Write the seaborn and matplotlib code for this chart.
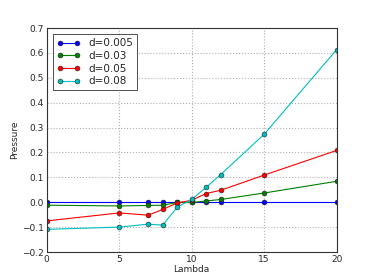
import numpy as np
import pandas as pd
import seaborn as sns
import matplotlib
matplotlib.use("Agg")
import matplotlib.pyplot as plt

# lambda values (x axis)
lambdas = [0, 5, 7, 8, 9, 10, 11, 12, 15, 20]

# pressure per spacing d
p_d005 = [0.0, 0.0, 0.0, 0.0, 0.0, 0.0, 0.0, 0.0, 0.0, 0.0]
p_d03 = [-0.012, -0.015, -0.013, -0.012, -0.001, -0.001, 0.005, 0.011, 0.037, 0.084]
p_d05 = [-0.075, -0.043, -0.052, -0.029, -0.003, 0.008, 0.035, 0.048, 0.109, 0.208]
p_d08 = [-0.109, -0.100, -0.088, -0.092, -0.020, 0.011, 0.060, 0.111, 0.273, 0.613]

labels = ["d=0.005", "d=0.03", "d=0.05", "d=0.08"]
colors = ["#0000ff", "#008000", "#ff0000", "#00bfbf"]

frames = []
for lab, vals in zip(labels, [p_d005, p_d03, p_d05, p_d08]):
    frames.append(pd.DataFrame({"Lambda": lambdas, "Pressure": vals, "d": lab}))
df = pd.concat(frames, ignore_index=True)

sns.set_style("whitegrid", {"grid.linestyle": ":", "grid.color": "#b0b0b0",
                            "axes.edgecolor": "#333333"})
plt.rcParams["font.family"] = ["DejaVu Sans"]

fig, ax = plt.subplots(figsize=(3.74, 2.8), dpi=100)
fig.subplots_adjust(left=0.125, right=0.9, bottom=0.1, top=0.9)

sns.lineplot(data=df, x="Lambda", y="Pressure", hue="d", hue_order=labels,
             palette=colors, marker="o", markersize=3.5, markeredgecolor="#222222",
             markeredgewidth=0.4, linewidth=0.8, ax=ax)

ax.set_xlim(0, 20)
ax.set_ylim(-0.2, 0.7)
ax.set_xticks([0, 5, 10, 15, 20])
ax.set_yticks(np.arange(-0.2, 0.71, 0.1))
ax.set_yticklabels([f"{v:.1f}".replace("-", "\u2212") for v in np.arange(-0.2, 0.71, 0.1)])
ax.tick_params(labelsize=6.5, length=0, pad=2)
ax.set_xlabel("Lambda", fontsize=6.5, labelpad=1)
ax.set_ylabel("Pressure", fontsize=6.5, labelpad=2)
for s in ax.spines.values():
    s.set_linewidth(0.8)

leg = ax.legend(loc="upper left", fontsize=7.5, frameon=True, fancybox=False,
                edgecolor="#333333", framealpha=1, numpoints=2,
                handlelength=2.2, borderpad=0.4, labelspacing=0.25,
                borderaxespad=0.6)
leg.get_frame().set_linewidth(0.6)

fig.savefig("out.png", dpi=100)
